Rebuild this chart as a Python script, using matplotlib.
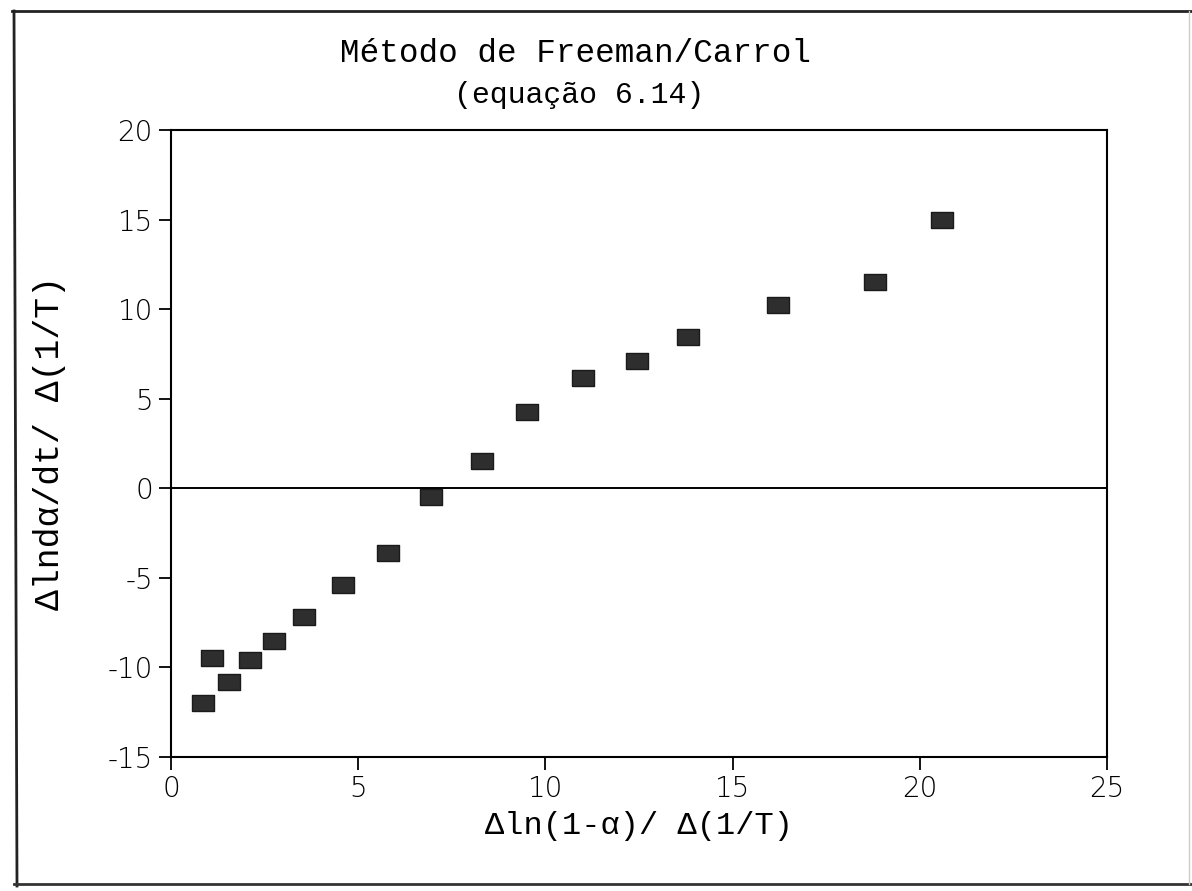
import matplotlib.pyplot as plt
from matplotlib.lines import Line2D

# Dados (Freeman/Carrol, eq. 6.14)
x_vals = [0.85, 1.1, 1.55, 2.1, 2.75, 3.55, 4.6, 5.8, 6.95, 8.3, 9.5, 11.0, 12.45, 13.8, 16.2, 18.8, 20.6]
y_vals = [-12.0, -9.5, -10.8, -9.6, -8.5, -7.2, -5.4, -3.6, -0.5, 1.5, 4.25, 6.15, 7.1, 8.45, 10.25, 11.5, 14.95]
x_ticks = [0, 5, 10, 15, 20, 25]
y_ticks = [-15, -10, -5, 0, 5, 10, 15, 20]

plt.rcParams["axes.unicode_minus"] = False
mono = "Liberation Mono"
fig = plt.figure(figsize=(11.92, 8.91), dpi=100)
ax = fig.add_axes([171 / 1192, 1 - 757 / 891, (1107 - 171) / 1192, (757 - 130) / 891])

# marcador retangular (mais largo que alto)
rect = [(-1.45, -1), (1.45, -1), (1.45, 1), (-1.45, 1), (-1.45, -1)]
ax.plot(x_vals, y_vals, linestyle="none", marker=rect, markersize=16,
        color="#2e2e2e", markeredgecolor="#1a1a1a", markeredgewidth=1)

ax.axhline(0, color="black", lw=1.4)
ax.set_xlim(0, 25)
ax.set_ylim(-15, 20)
ax.set_xticks(x_ticks)
ax.set_yticks(y_ticks)
ax.tick_params(direction="out", length=9, width=1.3, labelsize=20, pad=4,
               top=False, right=False)
for lab in ax.get_xticklabels() + ax.get_yticklabels():
    lab.set_fontfamily("DejaVu Sans")
    lab.set_fontweight("light")
for s in ax.spines.values():
    s.set_linewidth(1.5)

ax.set_xlabel("Δln(1-α)/ Δ(1/T)", fontfamily=mono, fontsize=23, labelpad=6)
ax.set_ylabel("Δlndα/dt/ Δ(1/T)", fontfamily=mono, fontsize=25, labelpad=30)

fig.text(0.483, 1 - 53 / 891, "Método de Freeman/Carrol", ha="center", va="center",
         fontfamily=mono, fontsize=23.5)
fig.text(0.486, 1 - 95 / 891, "(equação 6.14)", ha="center", va="center",
         fontfamily=mono, fontsize=21.5)

# moldura externa da página digitalizada
W, H = 1192, 891
fig.add_artist(Line2D([12 / W, 1.0], [1 - 11 / H, 1 - 11 / H], color="#222", lw=2))
fig.add_artist(Line2D([14 / W, 17 / W], [1 - 11 / H, 1 - 886 / H], color="#222", lw=2))
fig.add_artist(Line2D([14 / W, 1.0], [1 - 884 / H, 1 - 884 / H], color="#333", lw=2))
fig.add_artist(Line2D([1189 / W, 1189 / W], [1 - 11 / H, 1 - 884 / H], color="#ccc", lw=1))

plt.savefig("out.png", dpi=100)
